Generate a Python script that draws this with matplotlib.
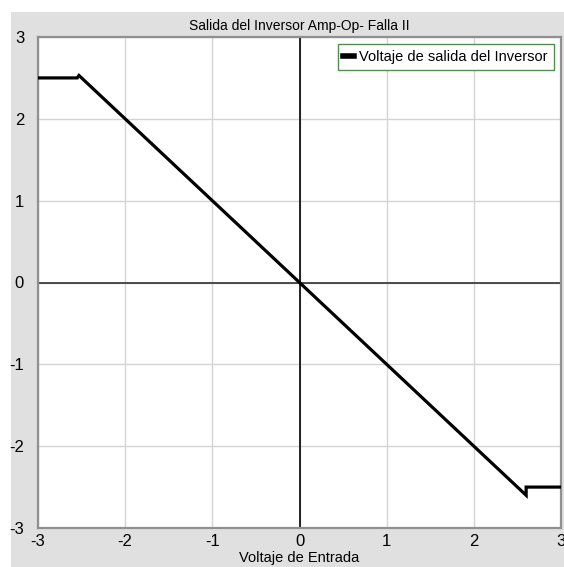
import matplotlib.pyplot as plt
from matplotlib.patches import Rectangle

# data
v_in = [-3.0, -2.55, -2.53, 2.6, 2.6, 3.0]
v_out = [2.5, 2.5, 2.53, -2.6, -2.5, -2.5]
ticks = [-3, -2, -1, 0, 1, 2, 3]

plt.rcParams['font.family'] = ['Liberation Sans', 'DejaVu Sans']
plt.rcParams['axes.unicode_minus'] = False

fig = plt.figure(figsize=(5.64, 5.67), dpi=100)
fig.patch.set_facecolor('white')
# grey panel behind the axes
fig.patches.append(Rectangle((11 / 564, 0), 1 - 11 / 564, 1 - 12 / 567,
                             transform=fig.transFigure, facecolor='#e0e0e0',
                             edgecolor='none', zorder=-10))

ax = fig.add_axes([38 / 564, 1 - 528 / 567, 523 / 564, 491 / 567])
ax.set_facecolor('white')

ax.grid(True, color='#d4d4d4', lw=1.0)
ax.axhline(0, color='#303030', lw=1.2, zorder=2)
ax.axvline(0, color='black', lw=1.2, zorder=2)
# caps at the ends of the vertical axis line
ax.plot([0, 0], [3, -3], '_', color='black', ms=6, mew=1.2, zorder=2,
        clip_on=False)

ax.plot(v_in, v_out, color='black', lw=2.3, solid_joinstyle='miter',
        label='Voltaje de salida del Inversor', zorder=3)

ax.set_xlim(-3, 3)
ax.set_ylim(-3, 3)
ax.set_xticks(ticks)
ax.set_yticks(ticks)
ax.tick_params(length=0, labelsize=12)
ax.tick_params(axis='y', pad=10)
ax.tick_params(axis='x', pad=4)
for s in ax.spines.values():
    s.set_color('#909090')
    s.set_linewidth(1.6)

ax.set_title('Salida del Inversor Amp-Op- Falla II', fontsize=10, pad=5)
ax.set_xlabel('Voltaje de Entrada', fontsize=10.5, labelpad=2)

leg = ax.legend(loc='upper right', fontsize=10.5, handlelength=0.7,
                handletextpad=0.4, borderaxespad=0.5, fancybox=False,
                framealpha=1, borderpad=0.4)
leg.get_frame().set_edgecolor('#4f8f4f')
leg.get_frame().set_linewidth(1.0)
for h in leg.get_lines():
    h.set_linewidth(4)

fig.savefig('out.png', dpi=100, facecolor=fig.get_facecolor())
